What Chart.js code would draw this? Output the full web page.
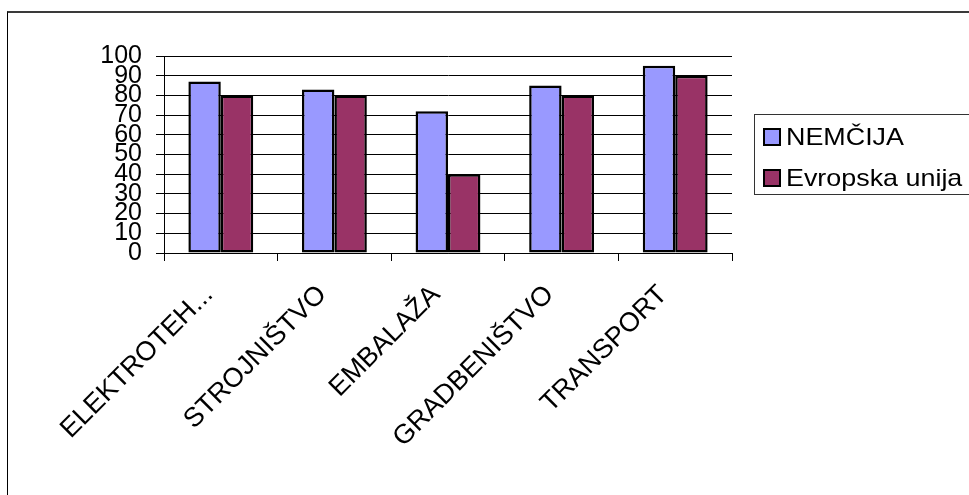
<!DOCTYPE html>
<html>
<head>
<meta charset="utf-8">
<script src="https://cdn.jsdelivr.net/npm/chart.js@4"></script>
<style>
  html, body { margin: 0; padding: 0; background: #fff; overflow: hidden; }
  #wrap { position: relative; width: 969px; height: 495px; overflow: hidden; }
  #frame {
    position: absolute; left: 7px; top: 11px; width: 1000px; height: 600px;
    border-top: 2px solid #3a3a3a; border-left: 1px solid #000;
  }
  #chart { position: absolute; left: 0; top: 0; }
  #legend {
    position: absolute; left: 754px; top: 114px; width: 260px; height: 81px;
    border: 1px solid #333; box-sizing: border-box;
    font-family: Arial, "Liberation Sans", sans-serif; font-size: 24px; color: #000;
  }
  .item { position: absolute; left: 8px; height: 26px; line-height: 26px; white-space: nowrap; }
  .swatch {
    display: inline-block; width: 14px; height: 14px; border: 2px solid #000;
    vertical-align: middle; margin-right: 5px; position: relative; top: -2px;
  }
  .name { display: inline-block; transform: scaleX(1.12); transform-origin: left center; }
</style>
</head>
<body>
<div id="wrap">
  <div id="frame"></div>
  <canvas id="chart" width="969" height="495"></canvas>
  <div id="legend"></div>
</div>
<script>
const categories = ['ELEKTROTEH...', 'STROJNIŠTVO', 'EMBALAŽA', 'GRADBENIŠTVO', 'TRANSPORT'];
const nemcija = [87, 83, 72, 85, 95];
const evropskaUnija = [80, 80, 40, 80, 90];
const seriesNames = ['NEMČIJA', 'Evropska unija'];
const seriesColors = ['#9999FF', '#993366'];

const font = 'Arial, "Liberation Sans", sans-serif';

const chart = new Chart(document.getElementById('chart'), {
  type: 'bar',
  data: {
    labels: categories,
    datasets: [nemcija, evropskaUnija].map((values, i) => ({
      label: seriesNames[i],
      data: values,
      backgroundColor: seriesColors[i],
      borderColor: '#000',
      borderWidth: 2.5,
      borderSkipped: false,
      categoryPercentage: 0.571,
      barPercentage: 1
    }))
  },
  options: {
    responsive: false,
    animation: false,
    devicePixelRatio: 1,
    layout: { padding: { left: 0, top: 56, right: 237, bottom: 0 } },
    plugins: { legend: { display: false }, tooltip: { enabled: false } },
    scales: {
      x: {
        grid: { drawOnChartArea: false, color: '#000', tickLength: 8 },
        border: { color: '#000', width: 1 },
        ticks: {
          color: '#000', font: { family: font, size: 27 },
          minRotation: 45, maxRotation: 45, autoSkip: false,
          padding: 18, labelOffset: -12
        },
        afterFit: s => { s.height = 242; }
      },
      y: {
        min: 0, max: 100,
        grid: { color: '#000', tickLength: 8 },
        border: { color: '#000', width: 1 },
        ticks: {
          stepSize: 10, autoSkip: false, color: '#000',
          font: { family: font, size: 25 }, padding: 14
        },
        afterFit: s => { s.width = 164; }
      }
    }
  }
});

// legend box built from the datasets
const legend = document.getElementById('legend');
chart.data.datasets.forEach((ds, i) => {
  const row = document.createElement('div');
  row.className = 'item';
  row.style.top = (9 + i * 41) + 'px';
  const sw = document.createElement('span');
  sw.className = 'swatch';
  sw.style.background = ds.backgroundColor;
  const name = document.createElement('span');
  name.className = 'name';
  name.textContent = ds.label;
  row.appendChild(sw);
  row.appendChild(name);
  legend.appendChild(row);
});
</script>
</body>
</html>
